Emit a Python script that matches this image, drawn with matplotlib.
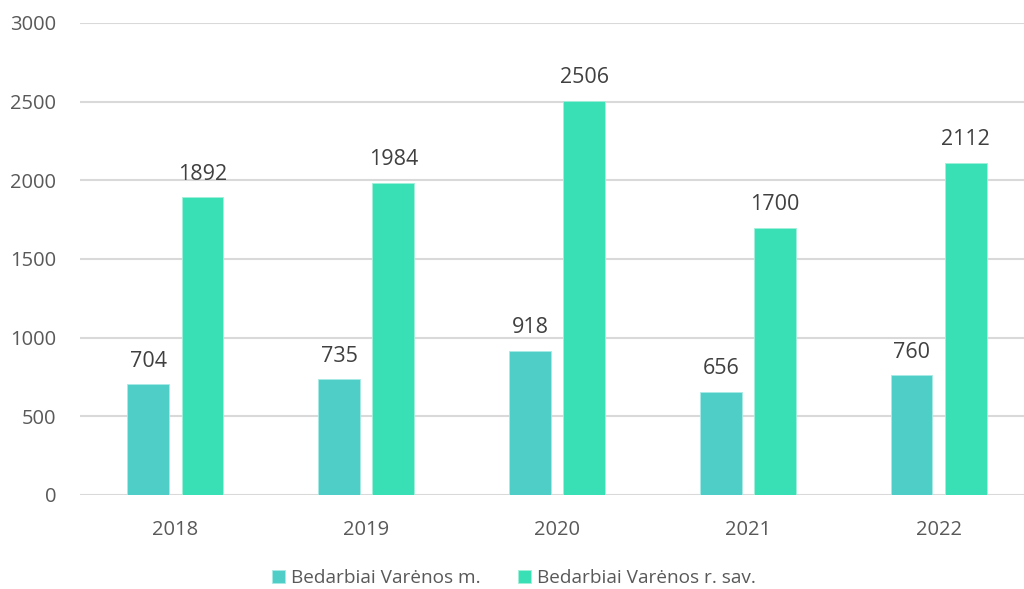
import matplotlib.pyplot as plt
import numpy as np

plt.rcParams["font.family"] = ["Open Sans", "DejaVu Sans"]

# data
years = ["2018", "2019", "2020", "2021", "2022"]
miestas = [704, 735, 918, 656, 760]
savivaldybe = [1892, 1984, 2506, 1700, 2112]
labels = ["Bedarbiai Varėnos m.", "Bedarbiai Varėnos r. sav."]

fig = plt.figure(figsize=(10.24, 5.89), dpi=100)
ax = fig.add_axes([80 / 1024, 1 - 495 / 589, 954 / 1024, 472 / 589])

x = np.arange(len(years))
bw = 0.22
off = 0.142
b1 = ax.bar(x - off, miestas, width=bw, color="#4FCDC7", edgecolor="#A8EAE6", linewidth=0.6,
            label=labels[0], zorder=3)
b2 = ax.bar(x + off, savivaldybe, width=bw, color="#3AE0B5", edgecolor="#A0F0DA", linewidth=0.6,
            label=labels[1], zorder=3)

for bars in (b1, b2):
    for r in bars:
        ax.annotate(str(int(r.get_height())), (r.get_x() + r.get_width() / 2, r.get_height()),
                    xytext=(0, 9), textcoords="offset points", ha="center", va="bottom",
                    fontsize=15.5, color="#404040")

ax.set_xlim(-0.5, len(years) - 0.5)
ax.set_ylim(0, 3000)
ax.set_yticks(range(0, 3001, 500))
ax.set_xticks(x)
ax.set_xticklabels(years)
ax.yaxis.grid(True, color="#D9D9D9", linewidth=1.5, zorder=0)
ax.tick_params(axis="both", length=0, labelsize=14.5, colors="#595959")
ax.tick_params(axis="x", pad=18)
ax.tick_params(axis="y", pad=17)
for s in ax.spines.values():
    s.set_visible(False)

fig.legend(loc="center", bbox_to_anchor=(514 / 1024, 1 - 578 / 589), ncol=2, frameon=False,
           fontsize=13.7, labelcolor="#595959", handlelength=0.68, handleheight=0.68,
           handletextpad=0.3, columnspacing=2.0)

fig.savefig("out.png", dpi=100)
